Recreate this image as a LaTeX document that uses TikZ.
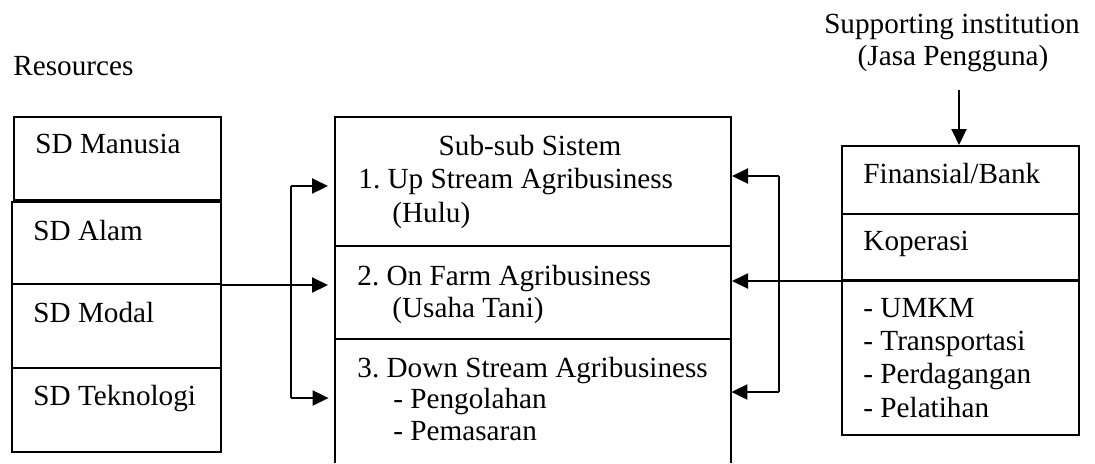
\documentclass[tikz,border=0pt]{standalone}
\usepackage{fontspec}
\setmainfont{Liberation Serif}
\frenchspacing
\usetikzlibrary{fit,arrows.meta}
\begin{document}
\begin{tikzpicture}[x=0.5pt,y=-0.5pt,
  box/.style={draw,line width=1pt,inner sep=0pt,fit={#1}},
  nobox/.style={inner sep=0pt,fit={#1}},
  txt/.style={inner sep=0pt,anchor=base west,font=\fontsize{14.6}{16}\selectfont},
  ctxt/.style={inner sep=0pt,anchor=base,font=\fontsize{14.6}{16}\selectfont},
  conn/.style={line width=1pt},
  arr/.style={line width=1pt,-{Triangle[length=8pt,width=7.5pt]}}]
\useasboundingbox (0,0) rectangle (1095,463);
% headings
\node[txt] (res) at (13,75) {Resources};
\node[ctxt] (sup1) at (952,33) {Supporting institution};
\node[ctxt] (sup2) at (953,65) {(Jasa Pengguna)};
% left boxes
\node[box={(14,117) (221,200)}] (man) {};
\node[box={(12,202) (221,284)}] (alam) {};
\node[box={(12,284) (221,368)}] (modal) {};
\node[box={(12,368) (221,452)}] (tek) {};
\node[txt] (tman) at (35,153) {SD Manusia};
\node[txt] (talam) at (33,240) {SD Alam};
\node[txt] (tmodal) at (33,322) {SD Modal};
\node[txt] (ttek) at (33,405) {SD Teknologi};
% middle boxes
\node[box={(335,117) (731,246)}] (s1) {};
\node[box={(335,246) (731,339)}] (s2) {};
\node[nobox={(335,339) (731,463)}] (s3) {};
\draw[conn] (s3.south west) -- (s3.north west);
\draw[conn] (s3.south east) -- (s3.north east);
\node[ctxt] (ts0) at (530,155) {Sub-sub Sistem};
\node[txt] (ts1) at (358,188) {1. Up Stream Agribusiness};
\node[txt] (ts1b) at (392,222) {(Hulu)};
\node[txt] (ts2) at (357,285) {2. On Farm Agribusiness};
\node[txt] (ts2b) at (392,317) {(Usaha Tani)};
\node[txt] (ts3) at (357,377) {3. Down Stream Agribusiness};
\node[txt] (ts3a) at (393,408) {- Pengolahan};
\node[txt] (ts3b) at (393,440) {- Pemasaran};
% right boxes
\node[box={(842,146) (1079,214)}] (bank) {};
\node[box={(842,214) (1079,280)}] (kop) {};
\node[box={(842,280) (1079,435)}] (umkm) {};
\node[txt] (tbank) at (863,183) {Finansial/Bank};
\node[txt] (tkop) at (863,250) {Koperasi};
\node[txt] (tu1) at (863,317) {- UMKM};
\node[txt] (tu2) at (863,350) {- Transportasi};
\node[txt] (tu3) at (863,383) {- Perdagangan};
\node[txt] (tu4) at (863,417) {- Pelatihan};
% top arrow
\coordinate (topstart) at (959,90);
\draw[arr] (topstart) -- (topstart |- bank.north);
% left connectors
\coordinate (ja) at (291,186);
\coordinate (jb) at (291,398);
\draw[conn] (ja) -- (jb);
\draw[arr,shorten >=3pt] (ja) -- (ja -| s1.west);
\draw[arr,shorten >=3pt] (jb) -- (jb -| s3.west);
\draw[arr,shorten >=3pt] (alam.south east) -- (alam.south east -| s2.west);
% right connectors
\coordinate (ka) at (779,176);
\coordinate (kb) at (779,392);
\draw[conn] (ka) -- (kb);
\draw[arr] (ka) -- (ka -| s1.east);
\draw[arr] (kb) -- (kb -| s3.east);
\draw[arr] (kop.south east) -- (kop.south east -| s2.east);
\end{tikzpicture}
\end{document}
